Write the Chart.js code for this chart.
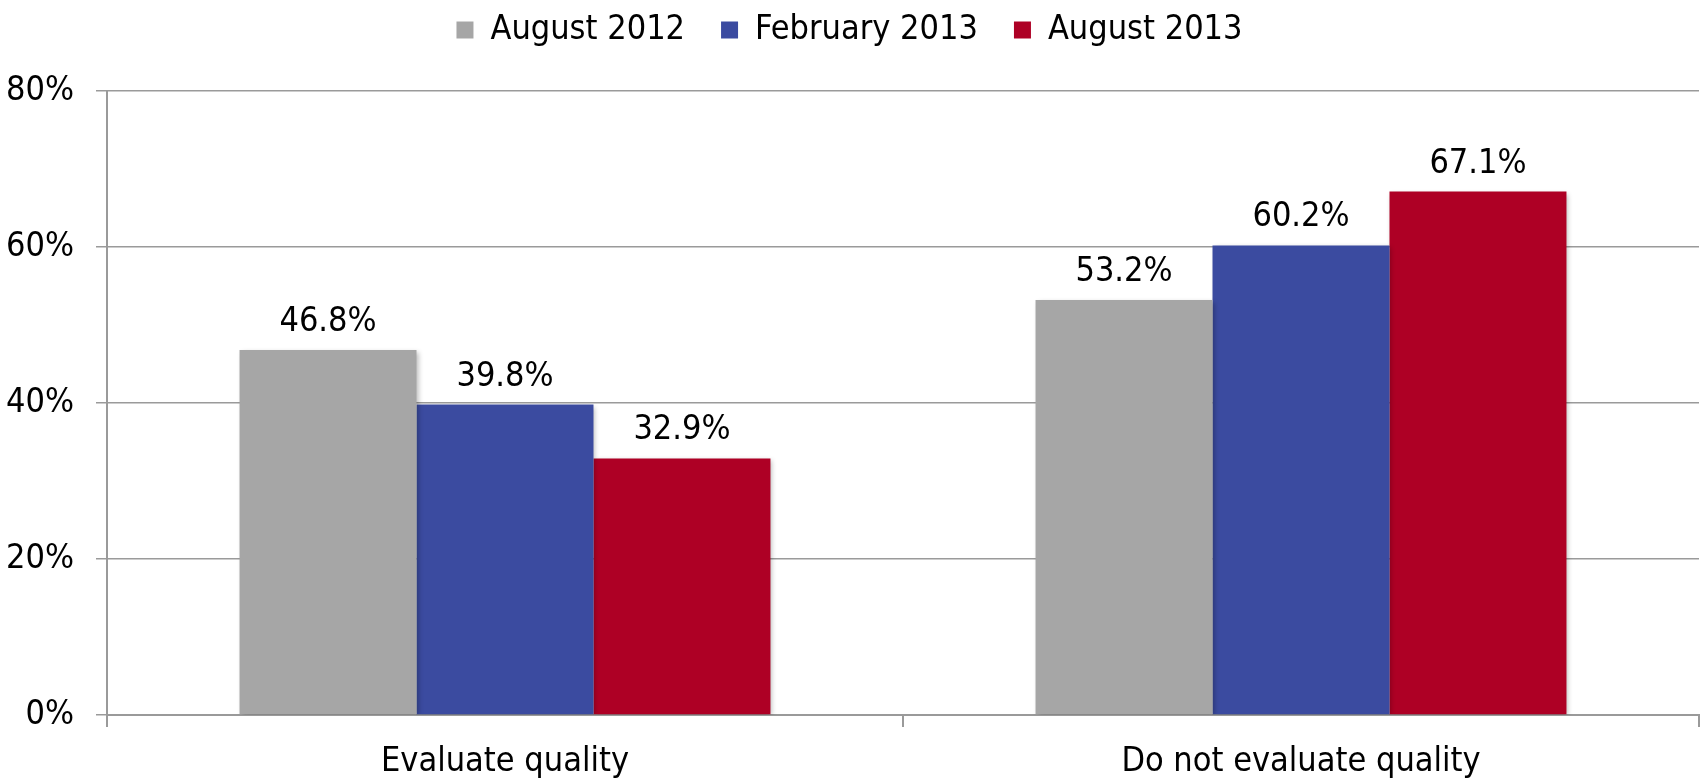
<!DOCTYPE html>
<html>
<head>
<meta charset="utf-8">
<script src="https://cdn.jsdelivr.net/npm/chart.js@4"></script>
<style>
  html, body { margin: 0; padding: 0; background: #fff; }
  #wrap { width: 1702px; height: 778px; }
</style>
</head>
<body>
<div id="wrap"><canvas id="qualityChart" width="1702" height="778"></canvas></div>
<script>
const categories = ["Evaluate quality", "Do not evaluate quality"];
const seriesNames = ["August 2012", "February 2013", "August 2013"];
const aug2012 = [46.8, 53.2];
const feb2013 = [39.8, 60.2];
const aug2013 = [32.9, 67.1];
const yTicks = [0, 20, 40, 60, 80];

const FONT = "'Liberation Sans Narrow', 'Arial Narrow', 'DejaVu Sans Condensed', sans-serif";
const FONT_SIZE = 34;
const GRID = "#9a9a9a";

// value labels above each bar
const barLabels = {
    id: "barLabels",
    afterDatasetsDraw(chart) {
        const ctx = chart.ctx;
        ctx.save();
        ctx.font = FONT_SIZE + "px " + FONT;
        ctx.fillStyle = "#000";
        ctx.textAlign = "center";
        ctx.textBaseline = "alphabetic";
        chart.data.datasets.forEach((ds, i) => {
            chart.getDatasetMeta(i).data.forEach((bar, j) => {
                ctx.fillText(ds.data[j].toFixed(1) + "%", bar.x, bar.y - 19);
            });
        });
        ctx.restore();
    }
};

// soft drop shadow behind the bars
const barShadow = {
    id: "barShadow",
    beforeDatasetsDraw(chart) {
        const ctx = chart.ctx;
        ctx.save();
        ctx.shadowColor = "rgba(0,0,0,0.28)";
        ctx.shadowBlur = 5;
        ctx.shadowOffsetX = 2;
        ctx.shadowOffsetY = 2;
    },
    afterDatasetsDraw(chart) {
        chart.ctx.restore();
    }
};

// leave room between legend and plot
const legendGap = {
    id: "legendGap",
    beforeLayout(chart) {
        const lg = chart.legend;
        if (!lg || lg._gapDone) return;
        const fit = lg.fit;
        lg.fit = function () {
            fit.call(this);
            this.height += 34;
        };
        lg._gapDone = true;
    }
};

new Chart(document.getElementById("qualityChart"), {
    type: "bar",
    data: {
        labels: categories,
        datasets: [
            { label: seriesNames[0], data: aug2012, backgroundColor: "#a6a6a6" },
            { label: seriesNames[1], data: feb2013, backgroundColor: "#3b4ba0" },
            { label: seriesNames[2], data: aug2013, backgroundColor: "#ae0025" }
        ]
    },
    options: {
        responsive: false,
        animation: false,
        devicePixelRatio: 1,
        layout: {
            padding: { top: -23, left: 0, right: 3, bottom: 0 }
        },
        datasets: {
            bar: { barPercentage: 1.0, categoryPercentage: 0.667 }
        },
        plugins: {
            legend: {
                position: "top",
                labels: {
                    color: "#000",
                    font: { family: FONT, size: FONT_SIZE },
                    boxWidth: 17,
                    boxHeight: 17,
                    padding: 36
                }
            },
            tooltip: { enabled: false }
        },
        scales: {
            x: {
                border: { color: GRID, width: 2 },
                grid: {
                    drawOnChartArea: false,
                    drawTicks: true,
                    tickLength: 12,
                    color: GRID,
                    lineWidth: 2
                },
                ticks: {
                    color: "#000",
                    font: { family: FONT, size: FONT_SIZE },
                    padding: 15
                },
                afterFit(scale) { scale.height = 63; }
            },
            y: {
                min: 0,
                max: 80,
                afterBuildTicks(scale) {
                    scale.ticks = yTicks.map(v => ({ value: v }));
                },
                border: { color: GRID, width: 2 },
                grid: {
                    color: GRID,
                    lineWidth: 1.5,
                    tickLength: 11
                },
                ticks: {
                    color: "#000",
                    font: { family: FONT, size: FONT_SIZE },
                    padding: 22,
                    callback: v => v + "%"
                },
                afterFit(scale) { scale.width = 107; }
            }
        }
    },
    plugins: [barShadow, barLabels, legendGap]
});
</script>
</body>
</html>
